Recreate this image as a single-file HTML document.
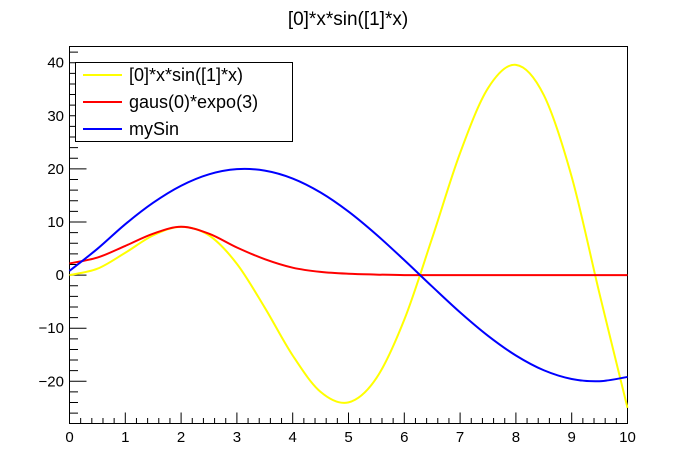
<!DOCTYPE html>
<html><head><meta charset="utf-8"><style>
body{margin:0;background:#fff}
svg{display:block;font-family:"Liberation Sans",Arial,sans-serif}
</style></head><body>
<svg id="c" width="696" height="472">
<rect width="696" height="472" fill="#fff"/>
<text x="348" y="25" text-anchor="middle" font-size="19">[0]*x*sin([1]*x)</text>
<g id="ax"></g><g id="series"></g><g id="leg"></g>
</svg>
<script>
const xs=[0,0.5,1,1.5,2,2.5,3,3.5,4,4.5,5,5.5,6,6.5,7,7.5,8,8.5,9,9.5,10];
const yellowVals=[0,1.2,4.21,7.48,9.09,7.48,2.12,-6.14,-15.14,-22.0,-23.97,-19.4,-8.38,6.99,23.0,35.2,39.6,33.9,18.5,-3.57,-25];
const redVals=[2.2,3.3,5.5,7.8,9.1,7.8,5.2,3.0,1.4,0.6,0.25,0.1,0,0,0,0,0,0,0,0,0];
const blueVals=[0.8,4.95,9.59,13.63,16.83,18.98,19.95,19.68,18.19,15.56,11.97,7.63,2.82,-2.16,-7.02,-11.43,-15.14,-17.92,-19.56,-19.98,-19.18];
const xTicks=[0,1,2,3,4,5,6,7,8,9,10];
const yTicks=[-20,-10,0,10,20,30,40];
const names=["[0]*x*sin([1]*x)","gaus(0)*expo(3)","mySin"];
const colors=["#ffff00","#ff0000","#0000ff"];
const L=69.5,R=627.5,T=46.5,B=423.5,XMIN=0,XMAX=10,Y0=275.1,PPU=5.31;
const X=v=>L+(v-XMIN)/(XMAX-XMIN)*(R-L);
const Y=v=>Y0-v*PPU;
const NS="http://www.w3.org/2000/svg";
function mk(t,a,p){const e=document.createElementNS(NS,t);for(const k in a)e.setAttribute(k,a[k]);p.appendChild(e);return e;}
const ax=document.getElementById('ax');
const fr=mk('rect',{x:L,y:T,width:R-L,height:B-T,fill:'none',stroke:'#000','stroke-width':1},ax);


let d='';
for(let v=0;v<=10.001;v+=0.2){const big=Math.abs(v-Math.round(v))<1e-6;d+=`M${X(v)},${B}v${big?-11:-5.5}`;}
const ymin=(Y0-B)/PPU,ymax=(Y0-T)/PPU;
for(let v=-28;v<=ymax;v+=2){if(v<ymin)continue;const big=v%10===0;d+=`M${L},${Y(v)}h${big?17:8.5}`;}
const tk=mk('path',{d:d,stroke:'#000','stroke-width':1,fill:'none'},ax);


xTicks.forEach(v=>{const t=mk('text',{x:X(v),y:442,'text-anchor':'middle','font-size':15},ax);t.textContent=v;

});
yTicks.forEach(v=>{const t=mk('text',{x:64,y:Y(v)+5,'text-anchor':'end','font-size':15},ax);t.textContent=v<0?'\u2212'+(-v):v;

});
function curve(vals){const p=xs.map((x,i)=>[X(x),Y(vals[i])]);let s=`M${p[0][0]},${p[0][1]}`;
for(let i=0;i<p.length-1;i++){const p0=p[i-1]||p[i],p1=p[i],p2=p[i+1],p3=p[i+2]||p[i+1];
s+=`C${p1[0]+(p2[0]-p0[0])/6},${p1[1]+(p2[1]-p0[1])/6} ${p2[0]-(p3[0]-p1[0])/6},${p2[1]-(p3[1]-p1[1])/6} ${p2[0]},${p2[1]}`;}return s;}
const sg=document.getElementById('series');
[yellowVals,redVals,blueVals].forEach((vals,i)=>{const e=mk('path',{d:curve(vals),stroke:colors[i],'stroke-width':2,fill:'none'},sg);

});
const lg=document.getElementById('leg');
const lb=mk('rect',{x:75.5,y:62.5,width:217,height:79,fill:'#fff',stroke:'#000','stroke-width':1},lg);


names.forEach((n,i)=>{const yy=75+i*27;
const ln=mk('line',{x1:83,x2:122,y1:yy,y2:yy,stroke:colors[i],'stroke-width':2},lg);


const t=mk('text',{x:129,y:yy+6,'font-size':18},lg);t.textContent=n;

});
</script>
</body></html>
